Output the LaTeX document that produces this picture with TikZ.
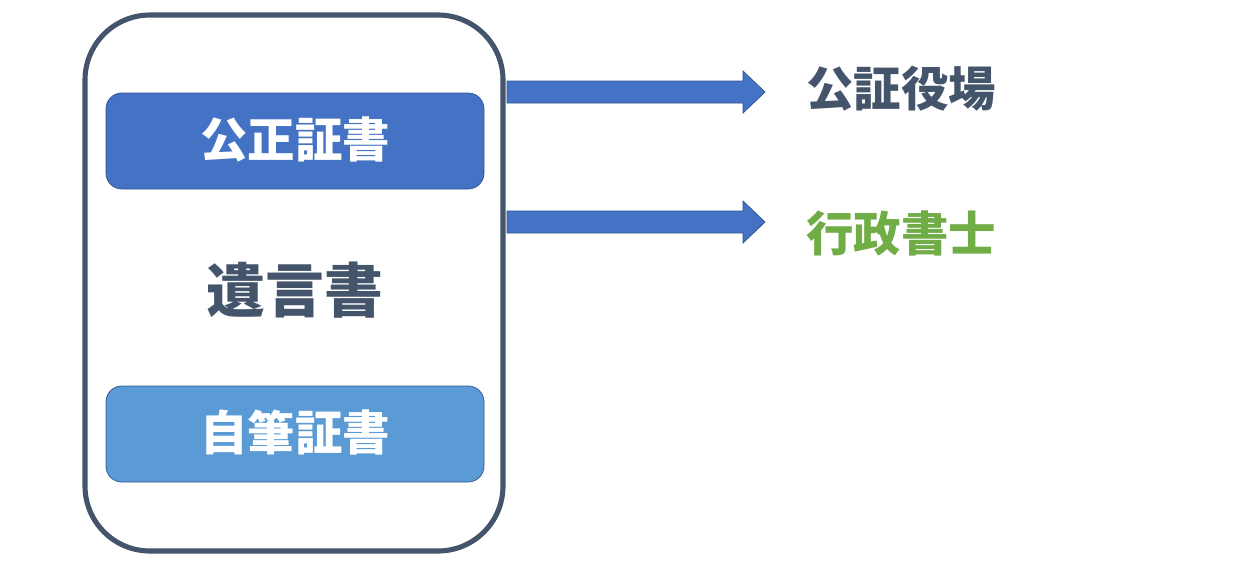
\documentclass[tikz,border=0pt]{standalone}
\usepackage{fontspec}
\setmainfont{Noto Sans CJK JP}
\usetikzlibrary{shapes.arrows}
\definecolor{slate}{HTML}{44546A}
\definecolor{accblue}{HTML}{4472C4}
\definecolor{litblue}{HTML}{5B9BD5}
\definecolor{accgreen}{HTML}{70AD47}
\definecolor{edgeblue}{HTML}{2F528F}
\begin{document}
\begin{tikzpicture}[x=0.02cm,y=-0.02cm,
  innerbox/.style={draw=edgeblue,line width=0.4pt,rounded corners=9pt,minimum width=378*0.02cm,minimum height=96*0.02cm,inner sep=0pt,text=white},
  boxtext/.style={inner sep=0pt,text=white,font=\fontsize{27}{30}\selectfont\bfseries},
  fatarrow/.style={fill=accblue,draw=edgeblue,line width=0.4pt},
  label/.style={anchor=west,inner sep=0pt,font=\fontsize{27}{30}\selectfont\bfseries}]
\useasboundingbox (0,0) rectangle (1254,566);
\node[draw=slate,line width=2.9pt,rounded corners=37pt,minimum width=418*0.02cm,minimum height=536*0.02cm,inner sep=0pt] (outer) at (294,283) {};
\node[innerbox,fill=accblue] (kosei) at (295,141) {};
\node[boxtext] (koseitext) at (295,139) {公正証書};
\node[innerbox,fill=litblue] (jihitsu) at (295,434) {};
\node[boxtext] (jihitsutext) at (295,432) {自筆証書};
\node[text=slate,font=\fontsize{33.5}{36}\selectfont\bfseries,inner sep=0pt] (yuigon) at (295,290) {遺言書};
\node[label,text=slate] (koshou) at (806,89) {公証役場};
\node[label,text=accgreen] (gyosei) at (806,233) {行政書士};
\coordinate (a1s) at (507,92);
\coordinate (a2s) at (507,222);
\draw[fatarrow] (a1s) ++(0,-11) -- ++(236,0) -- ++(0,-10) -- (765,92) -- (743,113) -- (743,103) -- (507,103) -- cycle;
\draw[fatarrow] (a2s) ++(0,-11) -- ++(236,0) -- ++(0,-10) -- (765,222) -- (743,243) -- (743,233) -- (507,233) -- cycle;
\end{tikzpicture}
\end{document}
